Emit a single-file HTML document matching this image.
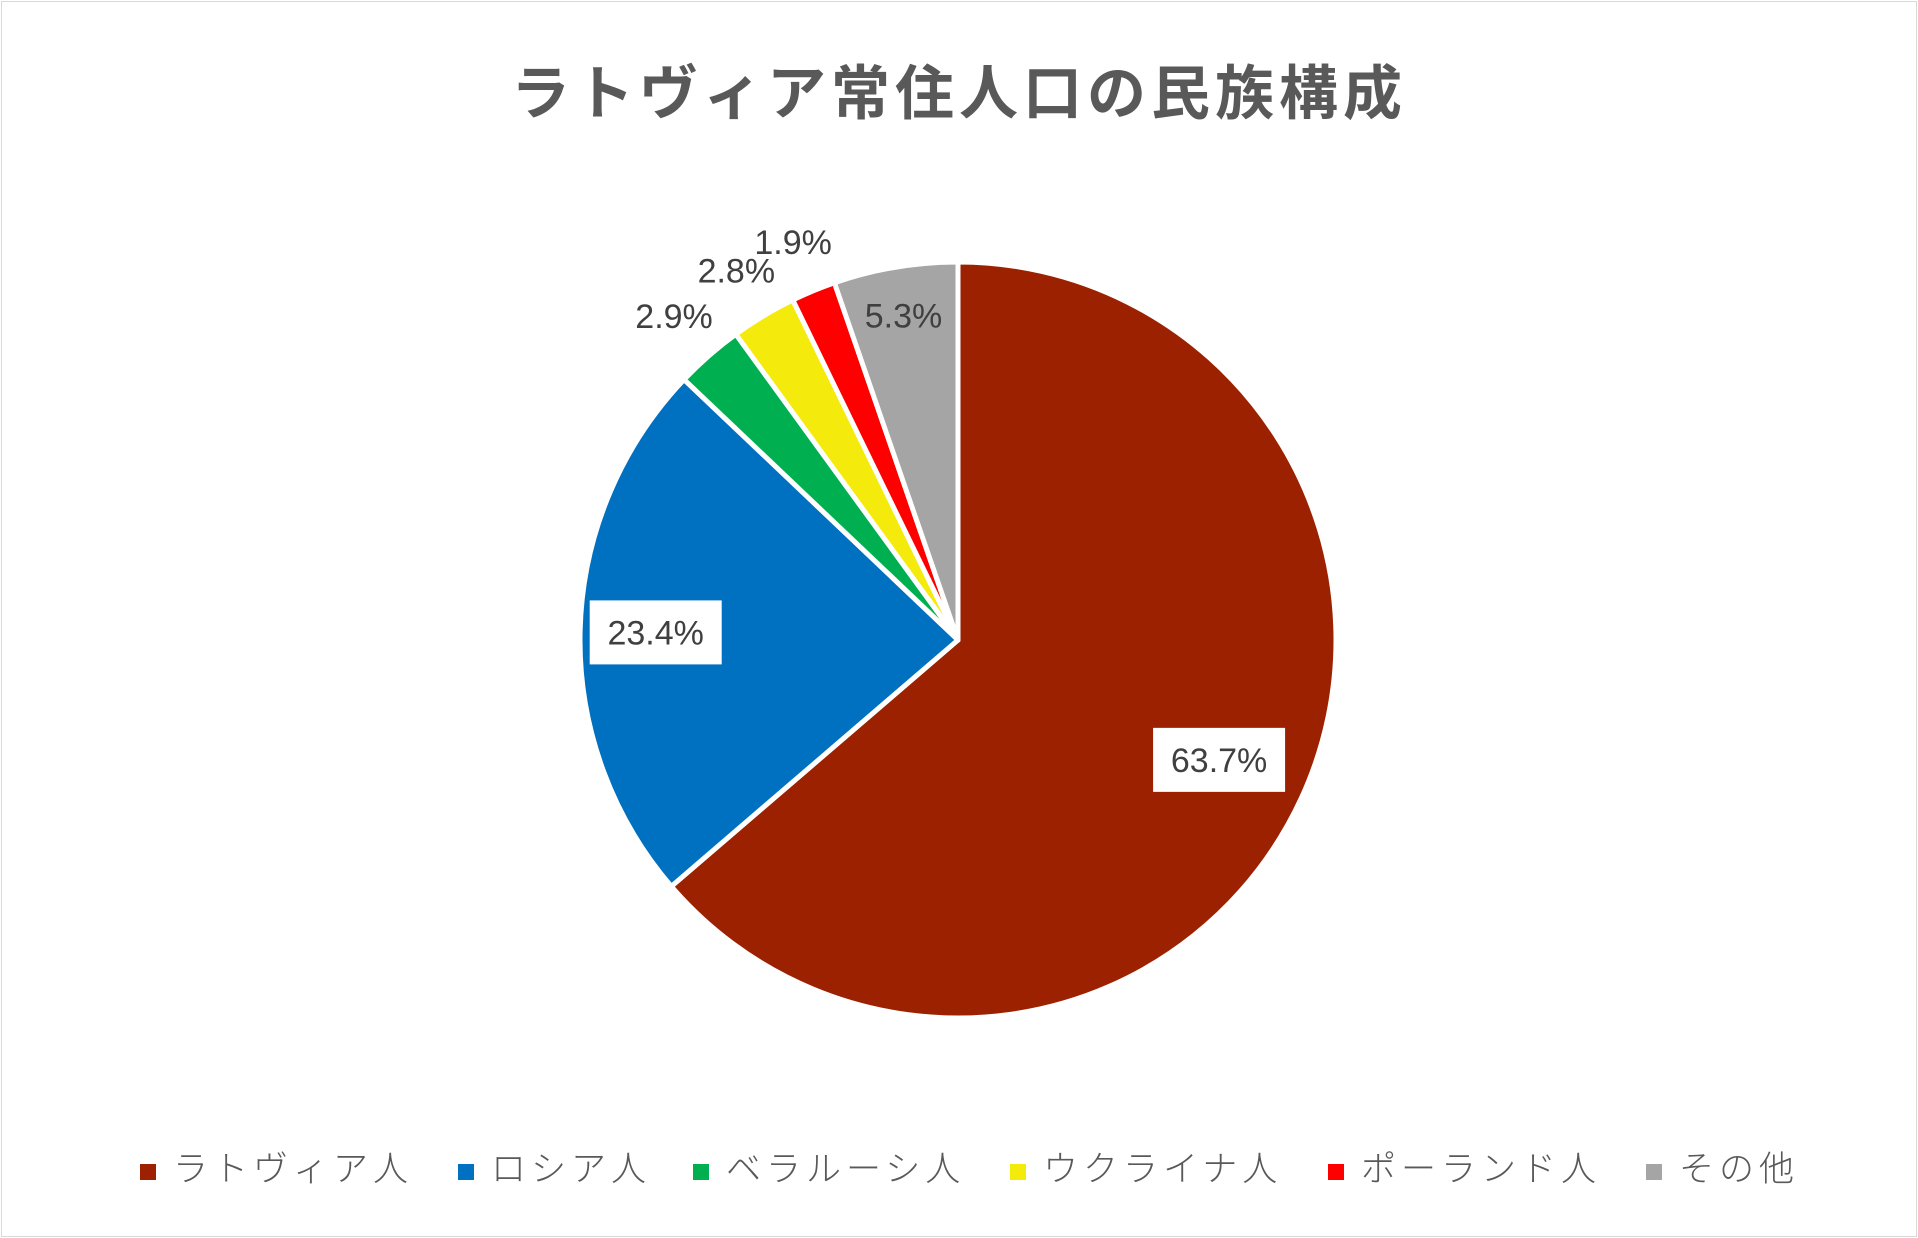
<!DOCTYPE html>
<html><head><meta charset="utf-8">
<style>
body{margin:0;background:#fff;}
#wrap{position:relative;width:1918px;height:1238px;overflow:hidden;background:#fff;}
#frame{position:absolute;left:1px;top:1px;width:1914px;height:1234px;border:1px solid #d9d9d9;}
#title{position:absolute;left:0;width:1918px;top:46px;text-align:center;font:bold 59px "Liberation Sans","Noto Sans CJK JP",sans-serif;color:#595959;letter-spacing:5px;}
.leg{position:absolute;top:1148px;font:300 35px "Liberation Sans","Noto Sans CJK JP",sans-serif;color:#595959;letter-spacing:5px;white-space:nowrap;line-height:44px;}
.mk{position:absolute;top:1164px;width:16px;height:16px;}
</style></head><body>
<div id="wrap">
<div id="frame"></div>
<div id="title">ラトヴィア常住人口の民族構成</div>
<svg id="pie" width="1918" height="1238" style="position:absolute;left:0;top:0"></svg>
<div id="legend"></div>
</div>
<script>
const categories=["ラトヴィア人","ロシア人","ベラルーシ人","ウクライナ人","ポーランド人","その他"];
const values=[63.7,23.4,2.9,2.8,1.9,5.3];
const labels=["63.7%","23.4%","2.9%","2.8%","1.9%","5.3%"];
const colors=["#9C2100","#0070C0","#00B050","#F4EA0C","#FF0000","#A5A5A5"];
const legendX=[140,458,693,1010,1328,1646];
const svg=document.getElementById('pie');
const NS='http://www.w3.org/2000/svg';
const cx=958,cy=640,r=378;
const total=values.reduce((a,b)=>a+b,0);
function pt(frac,rad){const a=frac*2*Math.PI;return [cx+rad*Math.sin(a),cy-rad*Math.cos(a)];}
let acc=0;
values.forEach((v,i)=>{
  const s=acc/total,e=(acc+v)/total;acc+=v;
  const [x1,y1]=pt(s,r),[x2,y2]=pt(e,r);
  const p=document.createElementNS(NS,'path');
  p.setAttribute('d',`M${cx},${cy} L${x1},${y1} A${r},${r} 0 ${(e-s)>0.5?1:0} 1 ${x2},${y2} Z`);
  p.setAttribute('fill',colors[i]);p.setAttribute('stroke','#fff');p.setAttribute('stroke-width','5');p.setAttribute('stroke-linejoin','round');
  
  
  svg.appendChild(p);
});
acc=0;
values.forEach((v,i)=>{
  const m=(acc+v/2)/total;acc+=v;
  const pct=v/total*100;
  const f=pct>=30?0.76:(pct>=10?0.8:(pct>=5?0.87:1.14));
  const [x,y]=pt(m,r*f);
  if(pct>=10){
    const b=document.createElementNS(NS,'rect');
    b.setAttribute('x',x-66);b.setAttribute('y',y-32);b.setAttribute('width',132);b.setAttribute('height',64);b.setAttribute('fill','#fff');
    
    
    svg.appendChild(b);
  }
  const t=document.createElementNS(NS,'text');
  t.setAttribute('x',x);t.setAttribute('y',y+12);t.setAttribute('text-anchor','middle');
  t.setAttribute('font-family','"Liberation Sans",sans-serif');t.setAttribute('font-size','34');t.setAttribute('fill','#404040');
  t.textContent=labels[i];
  
  
  svg.appendChild(t);
});
const lg=document.getElementById('legend');
categories.forEach((c,i)=>{
  const m=document.createElement('div');m.className='mk';m.style.left=legendX[i]+'px';m.style.background=colors[i];
  
  
  lg.appendChild(m);
  const t=document.createElementNS ? document.createElement('div') : null;t.className='leg';t.style.left=(legendX[i]+33)+'px';t.textContent=c;
  
  
  lg.appendChild(t);
});
</script>
</body></html>
